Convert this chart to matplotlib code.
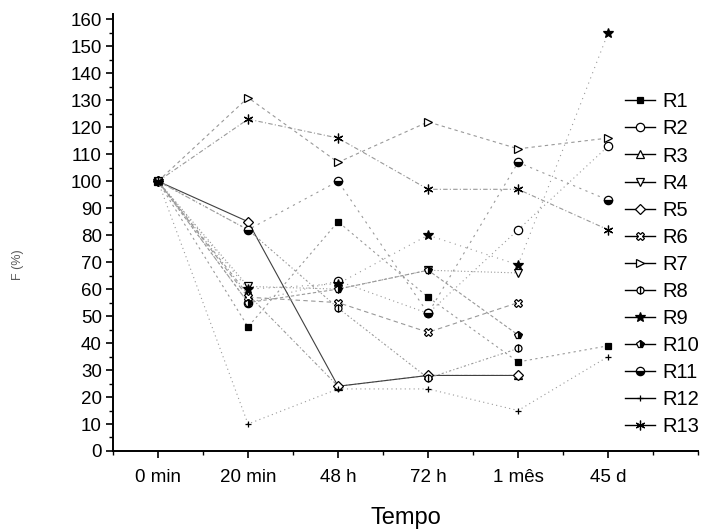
import numpy as np
import matplotlib
matplotlib.use("Agg")
import matplotlib.pyplot as plt
from matplotlib.lines import Line2D
from matplotlib.ticker import MultipleLocator

plt.rcParams['font.family'] = ['Liberation Sans', 'DejaVu Sans']

times = ['0 min', '20 min', '48 h', '72 h', '1 mês', '45 d']
nan = np.nan
R1 = [100, 46, 85, 57, 33, 39]
R2 = [100, 55, 63, 51, 82, 113]
R3 = [100, 58, 24, 28, 28, nan]
R4 = [100, 61, 60, 67, 66, nan]
R5 = [100, 85, 24, 28, 28, nan]
R6 = [100, 57, 55, 44, 55, nan]
R7 = [100, 131, 107, 122, 112, 116]
R8 = [100, 82, 53, 27, 38, nan]
R9 = [100, 60, 62, 80, 69, 155]
R10 = [100, 55, 60, 67, 43, nan]
R11 = [100, 82, 100, 51, 107, 93]
R12 = [100, 10, 23, 23, 15, 35]
R13 = [100, 123, 116, 97, 97, 82]
labels = ['R1', 'R2', 'R3', 'R4', 'R5', 'R6', 'R7', 'R8', 'R9', 'R10', 'R11', 'R12', 'R13']
series = [R1, R2, R3, R4, R5, R6, R7, R8, R9, R10, R11, R12, R13]

styles = [
    dict(marker='s', mfc='black', ms=5),
    dict(marker='o', mfc='white', ms=6),
    dict(marker='^', mfc='white', ms=6),
    dict(marker='v', mfc='white', ms=6),
    dict(marker='D', mfc='white', ms=5),
    dict(marker='X', mfc='white', ms=6),
    dict(marker='>', mfc='white', ms=6),
    dict(marker='o', mfc='white', ms=5, fillstyle='right'),
    dict(marker='*', mfc='black', ms=7),
    dict(marker='p', mfc='black', ms=6, fillstyle='right'),
    dict(marker='o', mfc='black', ms=6, fillstyle='bottom'),
    dict(marker='+', mfc='black', ms=4),
    dict(marker=(6, 2, 0), mfc='black', ms=7),
]
dashes = [(2, 3), (1, 3), (3, 2, 1, 2), (1, 2), None, (4, 3), (3, 3), (2, 2, 1, 2),
          (1, 4), (3, 2), (2, 4), (1, 3), (4, 2, 1, 2)]
line_colors = ['0.6'] * 13
line_colors[4] = '0.25'

fig = plt.figure(figsize=(7.22, 5.31), dpi=100)
ax = fig.add_axes([0.1565, 0.1507, 0.8105, 0.823])
x = np.arange(len(times))
for s, st, d, c in zip(series, styles, dashes, line_colors):
    line, = ax.plot(x, s, color=c, lw=0.8, markeredgecolor='black',
                    markerfacecoloralt='white', markeredgewidth=0.9, **st)
    if d is not None:
        line.set_dashes(d)

ax.set_xlim(-0.5, 6.0)
ax.set_ylim(0, 162)
ax.set_xticks(x)
ax.set_xticklabels(times)
ax.xaxis.set_minor_locator(MultipleLocator(0.5))
ax.set_yticks(np.arange(0, 161, 10))
ax.yaxis.set_minor_locator(MultipleLocator(5))
ax.tick_params(axis='both', which='major', labelsize=13.5, length=5, width=1.2,
               direction='out', pad=3)
ax.tick_params(axis='x', which='major', pad=8)
ax.tick_params(axis='both', which='minor', length=3, width=1)
for sp in ['top', 'right']:
    ax.spines[sp].set_visible(False)
ax.spines['left'].set_linewidth(1.4)
ax.spines['bottom'].set_linewidth(1.4)
ax.set_xlabel('Tempo', fontsize=17, labelpad=15)
fig.text(18 / 722, 1 - 265 / 531, 'F (%)', rotation=90, fontsize=9, color='0.35',
         ha='center', va='center')

handles = []
for lab, st in zip(labels, styles):
    handles.append(Line2D([], [], color='black', lw=1, markeredgecolor='black',
                          markerfacecoloralt='white', markeredgewidth=0.9, **st))
fig.legend(handles, labels, loc='upper left', bbox_to_anchor=(0.866, 0.826),
           frameon=False, fontsize=14.5, labelspacing=0.4, handlelength=1.5,
           handletextpad=0.35, borderaxespad=0, borderpad=0)

fig.savefig('out.png', dpi=100)
